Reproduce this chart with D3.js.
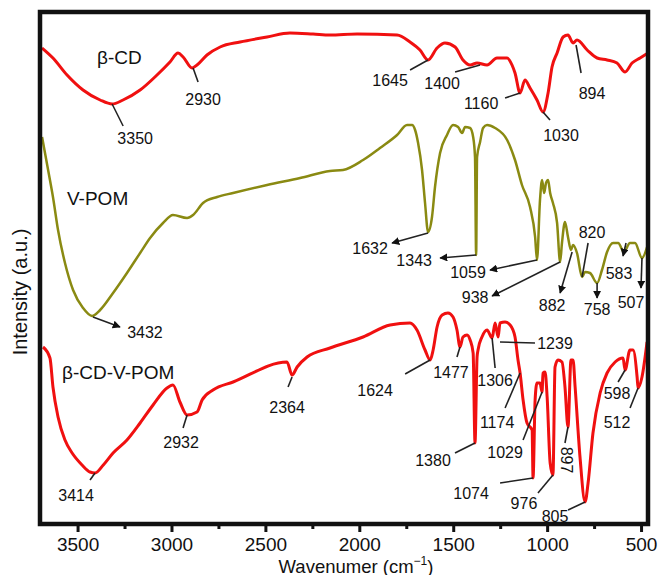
<!DOCTYPE html>
<html>
<head>
<meta charset="utf-8">
<script src="https://cdn.jsdelivr.net/npm/d3@7"></script>
<style>
body { margin: 0; background: #fff; }
text { font-family: "Liberation Sans", Arial, Helvetica, sans-serif; fill: #111; }
</style>
</head>
<body>
<div id="chart"></div>
<script>
'use strict';

// spectra: [wavenumber (cm-1), intensity (a.u., offset stacked)]
var bcd = [
    [3689,476],[3631,466],[3556,449],[3471,434],[3380,424],[3316,420],[3258,424],[3167,434],
    [3077,449],[3008,462],[2965,471],[2938,467],[2890,456],[2864,459],[2811,469],[2741,477],
    [2635,482],[2491,487],[2369,491],[2246,490],[2156,489],[2012,490],[1799,489],[1730,482],
    [1677,474],[1634,464],[1586,476],[1544,481],[1490,477],[1448,464],[1410,459],[1373,461],
    [1320,459],[1267,466],[1213,466],[1187,459],[1171,451],[1144,431],[1118,444],[1091,436],
    [1054,424],[1022,412],[995,431],[974,457],[947,471],[915,487],[889,489],[862,481],
    [841,484],[787,474],[734,466],[681,464],[628,461],[585,452],[548,461],[505,466],[463,471]
];

var vpom = [
    [3689,387],[3647,344],[3631,327],[3604,294],[3567,261],[3524,234],[3471,216],[3423,208],
    [3380,214],[3311,231],[3237,251],[3167,271],[3114,286],[3045,301],[2992,309],[2917,306],
    [2885,309],[2832,321],[2757,327],[2672,331],[2491,339],[2315,346],[2156,353],[2087,354],
    [1980,364],[1890,376],[1799,389],[1746,399],[1719,399],[1703,394],[1687,381],[1666,354],
    [1650,321],[1634,292],[1613,307],[1597,337],[1570,371],[1533,389],[1501,399],[1474,397],
    [1453,391],[1437,397],[1410,396],[1394,387],[1384,367],[1378,269],[1373,367],[1357,382],
    [1341,396],[1320,399],[1277,396],[1213,384],[1171,364],[1134,339],[1091,317],[1064,287],
    [1054,264],[1038,324],[1027,344],[1016,331],[1006,341],[995,344],[984,331],[969,321],
    [947,301],[931,262],[921,281],[905,302],[889,287],[873,274],[862,279],[841,271],
    [814,247],[798,252],[772,251],[734,241],[708,254],[681,272],[649,281],[622,281],
    [591,272],[559,281],[532,281],[495,266],[468,277]
];

var bcdvpom = [
    [3684,177],[3647,166],[3631,137],[3604,107],[3567,84],[3529,71],[3476,59],[3434,52],
    [3407,51],[3363,59],[3311,71],[3237,84],[3167,101],[3098,119],[3024,136],[2992,139],
    [2955,122],[2917,109],[2864,112],[2837,124],[2779,134],[2672,142],[2385,162],[2358,149],
    [2331,157],[2278,167],[2156,176],[1980,187],[1836,199],[1730,201],[1693,194],[1650,174],
    [1623,164],[1607,174],[1586,197],[1559,209],[1528,211],[1501,207],[1480,194],[1464,177],
    [1448,187],[1426,189],[1410,184],[1394,171],[1384,81],[1373,167],[1368,174],[1347,187],
    [1320,194],[1293,186],[1277,201],[1261,187],[1251,201],[1224,202],[1197,199],[1171,187],
    [1155,164],[1144,151],[1128,124],[1107,101],[1080,94],[1075,46],[1064,124],[1054,141],
    [1038,141],[1027,132],[1022,151],[1011,152],[1000,127],[984,61],[969,49],[958,157],
    [942,164],[921,162],[905,137],[889,97],[873,164],[862,164],[851,137],[825,67],
    [798,22],[782,41],[756,91],[718,131],[681,151],[638,162],[596,166],[585,154],
    [559,174],[543,174],[521,147],[516,136],[495,147],[468,182]
];

var xTicks = [3500, 3000, 2500, 2000, 1500, 1000, 500];
var xMinor = [3250, 2750, 2250, 1750, 1250, 750];

// peak labels: text, wavenumber, intensity of the marked point
var bcdPeaks = [
    ['3350', 3316, 420], ['2930', 2885, 456], ['1645', 1634, 464], ['1400', 1357, 459],
    ['1160', 1144, 431], ['1030', 1022, 412], ['894', 846, 479]
];
var vpomPeaks = [
    ['3432', 3418, 207], ['1632', 1634, 291], ['1343', 1378, 269], ['1059', 1054, 264],
    ['938', 931, 262], ['882', 867, 272], ['820', 814, 247], ['758', 734, 241],
    ['583', 580, 281], ['507', 495, 266]
];
var mixPeaks = [
    ['3414', 3407, 51], ['2932', 2917, 109], ['2364', 2358, 147], ['1624', 1623, 164],
    ['1477', 1464, 177], ['1306', 1293, 186], ['1239', 1251, 182], ['1174', 1144, 151],
    ['1029', 1027, 132], ['1380', 1384, 81], ['1074', 1075, 46], ['976', 969, 49],
    ['897', 889, 97], ['805', 798, 22], ['598', 585, 154], ['512', 516, 136]
];

// label placement in pixels: [line dx, line dy, text dx, text dy]
var offsets = {
    bcd: {
        '3350': [11, 22, 23, 34], '2930': [5, 14, 10, 31], '1645': [-18, 10, -38, 20],
        '1400': [-25, 7, -38, 18], '1160': [-15, 5, -39, 10], '1030': [7, 8, 18, 23],
        '894': [5, 28, 16, 48]
    },
    vpom: {
        '3432': [27, 10, 52, 15], '1632': [-36, 10, -58, 15], '1343': [-36, 3, -62, 5],
        '1059': [-47, 10, -69, 12], '938': [-68, 34, -85, 35], '882': [-12, 41, -20, 53],
        '820': [6, -34, 10, -45], '758': [0, 15, 0, 26], '583': [-3, 13, -7, 30],
        '507': [-1, 30, -11, 44]
    },
    mix: {
        '3414': [-5, 7, -19, 22], '2932': [-4, 13, -6, 27], '2364': [-4, 10, -5, 30],
        '1624': [-25, 14, -55, 30], '1477': [-3, 10, -9, 25], '1306': [3, 30, 3, 42],
        '1239': [35, 1, 55, 1], '1174': [-15, 35, -23, 49], '1029': [-19, 48, -37, 60],
        '1380': [-20, 10, -42, 17], '1074': [-33, 5, -62, 15], '976': [-15, 18, -29, 28],
        '897': [-3, 16, -1, 33], '805': [-17, 8, -30, 14], '598': [-7, 12, -8, 23],
        '512': [-8, 20, -21, 34]
    }
};

var width = 659, height = 575;
var plotLeft = 40, plotRight = 648, plotTop = 12, plotBottom = 524;

var svg = d3.select('#chart')
    .append('svg')
    .attr('width', width)
    .attr('height', height);

svg.append('defs').append('marker')
    .attr('id', 'arrow')
    .attr('viewBox', '0 0 10 10')
    .attr('refX', 9)
    .attr('refY', 5)
    .attr('markerWidth', 8)
    .attr('markerHeight', 8)
    .attr('markerUnits', 'userSpaceOnUse')
    .attr('orient', 'auto')
    .append('path')
    .attr('d', 'M0,0L10,5L0,10z')
    .attr('fill', '#111');

var x = d3.scaleLinear().domain([3700, 463]).range([plotLeft, plotRight]);
var y = d3.scaleLinear().domain([0, 512]).range([plotBottom, plotTop]);

var line = d3.line()
    .x(function(d) { return x(d[0]); })
    .y(function(d) { return y(d[1]); })
    .curve(d3.curveMonotoneX);

// curves
svg.append('path').datum(bcd)
    .attr('d', line).attr('fill', 'none')
    .attr('stroke', '#f01010').attr('stroke-width', 3)
    .attr('stroke-linejoin', 'round');

svg.append('path').datum(vpom)
    .attr('d', line).attr('fill', 'none')
    .attr('stroke', '#8a8a12').attr('stroke-width', 2.5)
    .attr('stroke-linejoin', 'round');

svg.append('path').datum(bcdvpom)
    .attr('d', line).attr('fill', 'none')
    .attr('stroke', '#f01010').attr('stroke-width', 3)
    .attr('stroke-linejoin', 'round');

// peak annotations
function drawPeaks(peaks, off, arrow) {
    var g = svg.append('g');
    peaks.forEach(function(p) {
        var o = off[p[0]];
        var px = x(p[1]), py = y(p[2]);
        var l = g.append('line')
            .attr('x1', px).attr('y1', py)
            .attr('x2', px + o[0]).attr('y2', py + o[1])
            .attr('stroke', '#222').attr('stroke-width', 1.6);
        if (arrow && p[0] !== '820') {
            l.attr('marker-end', 'url(#arrow)');
        }
        var t = g.append('text')
            .attr('x', px + o[2]).attr('y', py + o[3])
            .attr('text-anchor', 'middle')
            .attr('dominant-baseline', 'central')
            .style('font-size', '16px')
            .text(p[0]);
        if (p[0] === '897') {
            t.attr('transform', 'rotate(90,' + (px + o[2]) + ',' + (py + o[3]) + ')');
        }
    });
}
drawPeaks(bcdPeaks, offsets.bcd, false);
drawPeaks(vpomPeaks, offsets.vpom, true);
drawPeaks(mixPeaks, offsets.mix, false);

// series names
svg.append('text').attr('x', 97).attr('y', 57)
    .attr('dominant-baseline', 'central').style('font-size', '19px').text('β-CD');
svg.append('text').attr('x', 67).attr('y', 198)
    .attr('dominant-baseline', 'central').style('font-size', '19px').text('V-POM');
svg.append('text').attr('x', 62).attr('y', 372)
    .attr('dominant-baseline', 'central').style('font-size', '19px').text('β-CD-V-POM');

// x axis
var axis = svg.append('g')
    .attr('transform', 'translate(0,' + plotBottom + ')')
    .call(d3.axisBottom(x).tickValues(xTicks).tickSize(8).tickPadding(6).tickFormat(d3.format('d')));
axis.select('.domain').remove();
axis.selectAll('.tick line').attr('stroke', '#111').attr('stroke-width', 3);
axis.selectAll('.tick text').style('font-size', '19px').attr('fill', '#111');

svg.append('g')
    .attr('transform', 'translate(0,' + plotBottom + ')')
    .call(d3.axisBottom(x).tickValues(xMinor).tickSize(5).tickFormat(''))
    .call(function(g) {
        g.select('.domain').remove();
        g.selectAll('.tick line').attr('stroke', '#111').attr('stroke-width', 3);
    });

// frame
svg.append('rect')
    .attr('x', plotLeft).attr('y', plotTop)
    .attr('width', plotRight - plotLeft).attr('height', plotBottom - plotTop)
    .attr('fill', 'none').attr('stroke', '#111').attr('stroke-width', 4.5);

// axis titles
var xt = svg.append('text')
    .attr('x', 356).attr('y', 572.5)
    .attr('text-anchor', 'middle')
    .style('font-size', '18.5px');
xt.append('tspan').text('Wavenumer (cm');
xt.append('tspan').attr('dy', -8).style('font-size', '12px').text('\u22121');
xt.append('tspan').attr('dy', 8).text(')');

svg.append('text')
    .attr('transform', 'translate(20,292) rotate(-90)')
    .attr('text-anchor', 'middle')
    .attr('dominant-baseline', 'central')
    .style('font-size', '20px')
    .text('Intensity (a.u.)');
</script>
</body>
</html>
